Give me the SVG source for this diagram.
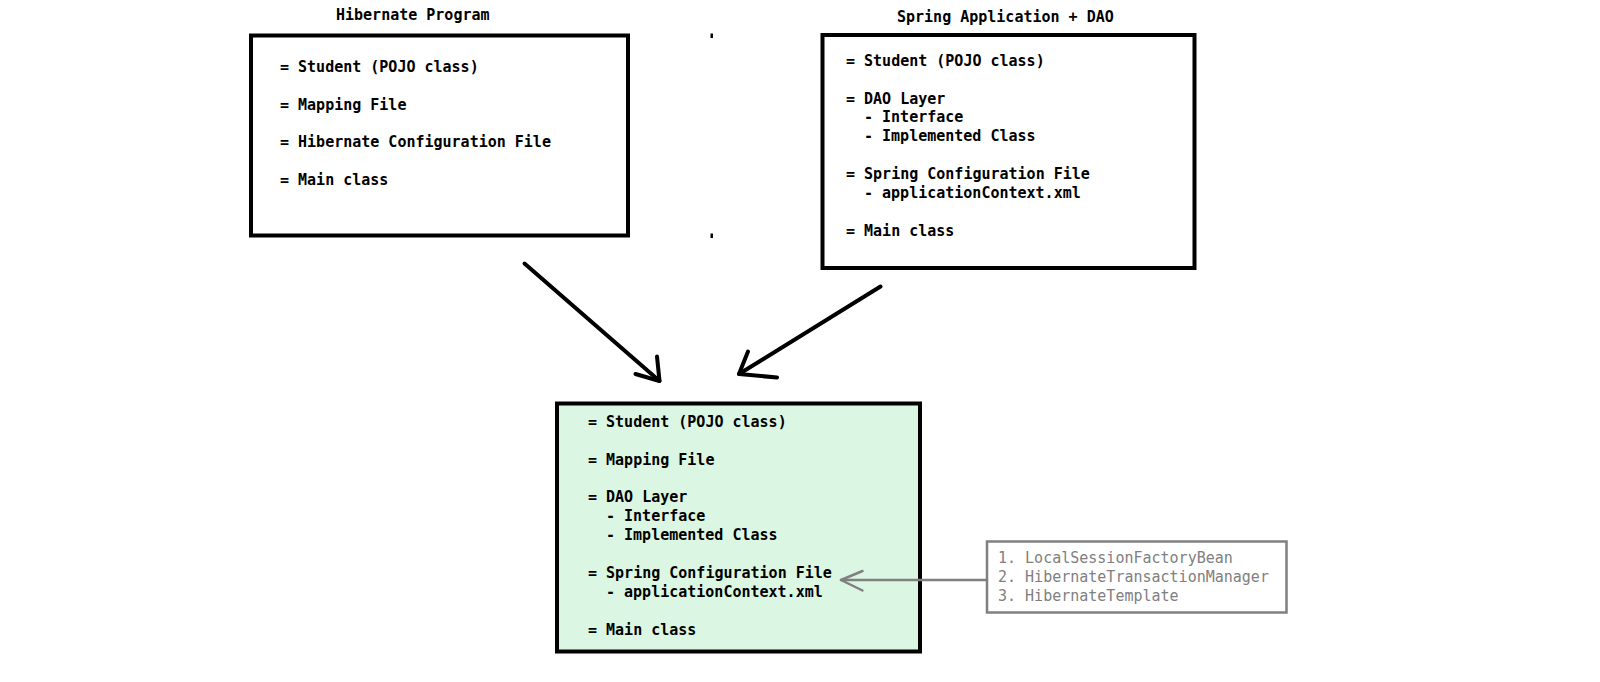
<svg xmlns="http://www.w3.org/2000/svg" width="1600" height="682" viewBox="0 0 1600 682">
<style>
  .box { fill: #ffffff; stroke: #000000; stroke-width: 4; }
  .merged { fill: #dbf7e3; stroke: #000000; stroke-width: 4; }
  .note { fill: #ffffff; stroke: #808080; stroke-width: 2.5; }
  .t { font-family: "DejaVu Sans Mono", "Liberation Mono", monospace; font-size: 15px; font-weight: bold; fill: #000000; }
  .g { font-family: "DejaVu Sans Mono", "Liberation Mono", monospace; font-size: 15px; fill: #808080; }
  .arrow { fill: none; stroke: #000000; stroke-width: 4; stroke-linecap: round; stroke-linejoin: round; }
  .garrow { fill: none; stroke: #808080; stroke-width: 2.5; stroke-linecap: round; stroke-linejoin: round; }
</style>
<rect width="1600" height="682" fill="#ffffff"/>

<g id="hibernate-program">
  <text class="t" x="336" y="20">Hibernate Program</text>
  <rect class="box" x="251" y="35.5" width="377" height="200"/>
  <text class="t" x="280" y="72">= Student (POJO class)</text>
  <text class="t" x="280" y="109.5">= Mapping File</text>
  <text class="t" x="280" y="147">= Hibernate Configuration File</text>
  <text class="t" x="280" y="184.6">= Main class</text>
</g>

<g id="marks">
  <rect x="710.5" y="33.5" width="2.5" height="4.5" fill="#000000"/>
  <rect x="710.5" y="233.5" width="2.5" height="4.5" fill="#000000"/>
</g>

<g id="spring-dao">
  <text class="t" x="897" y="22">Spring Application + DAO</text>
  <rect class="box" x="822.5" y="35" width="372" height="233"/>
  <text class="t" x="846" y="65.5">= Student (POJO class)</text>
  <text class="t" x="846" y="103.5">= DAO Layer</text>
  <text class="t" x="864" y="122.4">- Interface</text>
  <text class="t" x="864" y="141.3">- Implemented Class</text>
  <text class="t" x="846" y="179">= Spring Configuration File</text>
  <text class="t" x="864" y="197.9">- applicationContext.xml</text>
  <text class="t" x="846" y="235.8">= Main class</text>
</g>

<g id="merged">
  <rect class="merged" x="557" y="403.5" width="363" height="248"/>
  <text class="t" x="588" y="426.5">= Student (POJO class)</text>
  <text class="t" x="588" y="464.5">= Mapping File</text>
  <text class="t" x="588" y="502.3">= DAO Layer</text>
  <text class="t" x="606" y="521.2">- Interface</text>
  <text class="t" x="606" y="540">- Implemented Class</text>
  <text class="t" x="588" y="577.8">= Spring Configuration File</text>
  <text class="t" x="606" y="596.5">- applicationContext.xml</text>
  <text class="t" x="588" y="634.6">= Main class</text>
</g>

<g id="hibernate-classes">
  <rect class="note" x="987" y="541.5" width="299.5" height="71"/>
  <text class="g" x="998" y="562.5">1. LocalSessionFactoryBean</text>
  <text class="g" x="998" y="581.5">2. HibernateTransactionManager</text>
  <text class="g" x="998" y="600.5">3. HibernateTemplate</text>
</g>

<g id="connectors">
  <path class="arrow" d="M524.5,263.5 L659.5,381"/>
  <path class="arrow" d="M635.5,374 L659.5,381 L657,356.5"/>
  <path class="arrow" d="M880.5,286.5 L739,374"/>
  <path class="arrow" d="M748,351.5 L739,374 L777,377.5"/>
  <path class="garrow" d="M987,580 L841,580"/>
  <path class="garrow" d="M862.5,571 L841,580 L862.5,590.5"/>
</g>
</svg>
